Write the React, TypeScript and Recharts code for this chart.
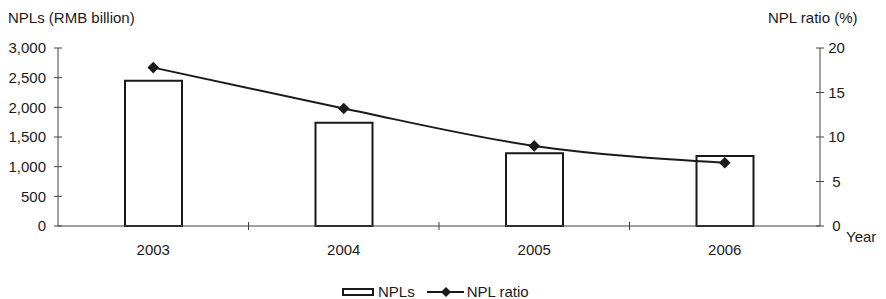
import React from "react";
import { ComposedChart, Bar, Line, XAxis, YAxis } from "recharts";

const years = ["2003", "2004", "2005", "2006"];
const npls = [2450, 1740, 1225, 1180];
const nplRatio = [17.8, 13.2, 9.0, 7.1];
const leftTicks = [0, 500, 1000, 1500, 2000, 2500, 3000];
const rightTicks = [0, 5, 10, 15, 20];

const data = years.map((year, i) => ({ year, npls: npls[i], ratio: nplRatio[i] }));

const FONT = '"Liberation Sans", Arial, sans-serif';
const INK = "#1a1a1a";
const AXIS = "#444";

function LeftTick(props: any) {
  const { x, y, payload } = props;
  const ax = x + 12;
  return (
    <g>
      <line x1={ax - 4} x2={ax + 4} y1={y} y2={y} stroke={AXIS} />
      <text x={x} y={y} dy="0.35em" textAnchor="end" fontSize={15} fontFamily={FONT} fill={INK}>
        {Number(payload.value).toLocaleString("en-US")}
      </text>
    </g>
  );
}

function RightTick(props: any) {
  const { x, y, payload } = props;
  return (
    <g>
      <line x1={x - 4} x2={x + 4} y1={y} y2={y} stroke={AXIS} />
      <text x={x + 16.5} y={y} dy="0.35em" textAnchor="middle" fontSize={15} fontFamily={FONT} fill={INK}>
        {payload.value}
      </text>
    </g>
  );
}

function YearTick(props: any) {
  const { x, y, payload, index, width, visibleTicksCount } = props;
  const band = width && visibleTicksCount ? width / visibleTicksCount : 190.5;
  const ay = y - 18;
  return (
    <g>
      {index > 0 && <line x1={x - band / 2} x2={x - band / 2} y1={ay - 4} y2={ay + 4} stroke={AXIS} />}
      <text x={x} y={y} dy="0.71em" textAnchor="middle" fontSize={15} fontFamily={FONT} fill={INK}>
        {payload.value}
      </text>
    </g>
  );
}

function Diamond(props: any) {
  const { cx, cy, index } = props;
  const r = 5.8;
  return (
    <path
      key={`d-${index}`}
      d={`M${cx},${cy - r} L${cx + r},${cy} L${cx},${cy + r} L${cx - r},${cy} Z`}
      fill={INK}
    />
  );
}

const textStyle: React.CSSProperties = {
  position: "absolute",
  fontFamily: FONT,
  fontSize: 15,
  lineHeight: "15px",
  color: INK,
  whiteSpace: "nowrap",
};

export default function App() {
  return (
    <div style={{ position: "absolute", left: 0, top: 0, width: 886, height: 299, background: "#fff" }}>
      <ComposedChart
        width={886}
        height={299}
        data={data}
        margin={{ top: 48, right: 36, left: 0, bottom: 43 }}
      >
        <XAxis
          dataKey="year"
          height={30}
          stroke={AXIS}
          tickLine={false}
          tickSize={0}
          tickMargin={18}
          interval={0}
          tick={<YearTick />}
        />
        <YAxis
          yAxisId="left"
          width={58}
          domain={[0, 3000]}
          ticks={leftTicks}
          stroke={AXIS}
          tickLine={false}
          tickSize={0}
          tickMargin={12}
          tick={<LeftTick />}
        />
        <YAxis
          yAxisId="right"
          orientation="right"
          width={30}
          domain={[0, 20]}
          ticks={rightTicks}
          stroke={AXIS}
          tickLine={false}
          tickSize={0}
          tickMargin={0}
          tick={<RightTick />}
        />
        <Bar
          yAxisId="left"
          dataKey="npls"
          barSize={57}
          fill="#fff"
          stroke={INK}
          strokeWidth={2}
          isAnimationActive={false}
        />
        <Line
          yAxisId="right"
          type="monotone"
          dataKey="ratio"
          stroke={INK}
          strokeWidth={2}
          dot={Diamond}
          activeDot={false}
          isAnimationActive={false}
        />
      </ComposedChart>

      <div style={{ ...textStyle, left: 8, top: 10 }}>NPLs (RMB billion)</div>
      <div style={{ ...textStyle, left: 768, top: 10 }}>NPL ratio (%)</div>
      <div style={{ ...textStyle, left: 846, top: 229 }}>Year</div>

      <div style={{ ...textStyle, left: 342, top: 284, display: "flex", alignItems: "center" }}>
        <span style={{ display: "inline-block", width: 28, height: 4, border: `2px solid ${INK}` }} />
        <span style={{ marginLeft: 4 }}>NPLs</span>
        <svg width={37} height={14} style={{ marginLeft: 12 }}>
          <line x1={0} x2={37} y1={7} y2={7} stroke={INK} strokeWidth={2} />
          <path d="M19,2 L24,7 L19,12 L14,7 Z" fill={INK} />
        </svg>
        <span style={{ marginLeft: 3 }}>NPL ratio</span>
      </div>
    </div>
  );
}
